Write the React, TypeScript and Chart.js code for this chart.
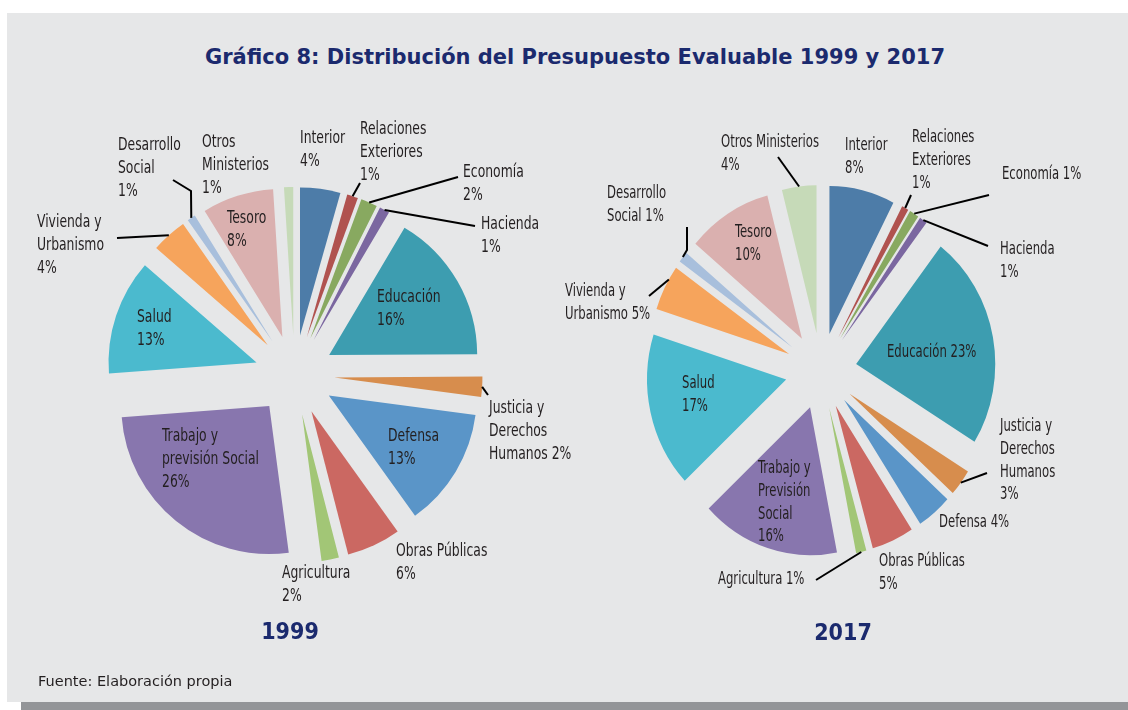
import React, { useEffect, useRef } from "react";
import { Chart, registerables } from "chart.js";

Chart.register(...registerables);

// ---------- DATA ----------
const categories = [
  "Interior",
  "Relaciones Exteriores",
  "Economía",
  "Hacienda",
  "Educación",
  "Justicia y Derechos Humanos",
  "Defensa",
  "Obras Públicas",
  "Agricultura",
  "Trabajo y Previsión Social",
  "Salud",
  "Vivienda y Urbanismo",
  "Desarrollo Social",
  "Tesoro",
  "Otros Ministerios",
];

// share of the evaluable budget (%)
const values1999 = [4.4, 1.2, 1.8, 1.1, 16.4, 2.2, 13.0, 5.9, 1.9, 25.9, 12.6, 3.9, 0.9, 7.8, 1.0];
const values2017 = [7.6, 0.8, 1.1, 0.9, 23.4, 2.9, 4.1, 4.9, 1.2, 16.1, 16.9, 5.0, 1.2, 9.9, 4.0];

const yearLabels = ["1999", "2017"];
const chartTitle = "Gráfico 8: Distribución del Presupuesto Evaluable 1999 y 2017";
const sourceText = "Fuente: Elaboración propia";

// ---------- STYLE / LAYOUT ----------
const sliceColors = [
  "#4d7ca8", "#b0524f", "#88a960", "#7b67a0", "#3d9db0", "#d78d4d", "#5a95c8",
  "#cb6862", "#a2c676", "#8876ae", "#4bbace", "#f6a45c", "#a8bfdc", "#dab0af", "#c6dab8",
];

const W = 1128;
const H = 710;
const LINE_H = 22.6;
const LABEL_FONT = '17px "Liberation Sans Narrow", "DejaVu Sans Condensed", sans-serif';
const TEXT_SX = 0.81;
const TEXT_COLOR = "#231f20";
const NAVY = "#1b2a6e";

type LabelLayout = { x: number; y: number; lines: string[] };
type Leader = { idx: number; pts: number[][]; at?: number };

const labels1999: LabelLayout[] = [
  { x: 300, y: 139, lines: ["Interior", "{p}"] },
  { x: 360, y: 130, lines: ["Relaciones", "Exteriores", "{p}"] },
  { x: 463, y: 173, lines: ["Economía", "{p}"] },
  { x: 481, y: 225, lines: ["Hacienda", "{p}"] },
  { x: 377, y: 298, lines: ["Educación", "{p}"] },
  { x: 489, y: 409, lines: ["Justicia y", "Derechos", "Humanos {p}"] },
  { x: 388, y: 437, lines: ["Defensa", "{p}"] },
  { x: 396, y: 552, lines: ["Obras Públicas", "{p}"] },
  { x: 282, y: 574, lines: ["Agricultura", "{p}"] },
  { x: 162, y: 437, lines: ["Trabajo y", "previsión Social", "{p}"] },
  { x: 137, y: 318, lines: ["Salud", "{p}"] },
  { x: 37, y: 223, lines: ["Vivienda y", "Urbanismo", "{p}"] },
  { x: 118, y: 146, lines: ["Desarrollo", "Social", "{p}"] },
  { x: 227, y: 219, lines: ["Tesoro", "{p}"] },
  { x: 202, y: 143, lines: ["Otros", "Ministerios", "{p}"] },
];

const labels2017: LabelLayout[] = [
  { x: 845, y: 146, lines: ["Interior", "{p}"] },
  { x: 912, y: 138, lines: ["Relaciones", "Exteriores", "{p}"] },
  { x: 1002, y: 175, lines: ["Economía {p}"] },
  { x: 1000, y: 250, lines: ["Hacienda", "{p}"] },
  { x: 887, y: 353, lines: ["Educación {p}"] },
  { x: 1000, y: 427, lines: ["Justicia y", "Derechos", "Humanos", "{p}"] },
  { x: 939, y: 523, lines: ["Defensa {p}"] },
  { x: 879, y: 562, lines: ["Obras Públicas", "{p}"] },
  { x: 718, y: 580, lines: ["Agricultura {p}"] },
  { x: 758, y: 469, lines: ["Trabajo y", "Previsión", "Social", "{p}"] },
  { x: 682, y: 384, lines: ["Salud", "{p}"] },
  { x: 565, y: 292, lines: ["Vivienda y", "Urbanismo {p}"] },
  { x: 607, y: 194, lines: ["Desarrollo", "Social {p}"] },
  { x: 735, y: 233, lines: ["Tesoro", "{p}"] },
  { x: 721, y: 143, lines: ["Otros Ministerios", "{p}"] },
];

const leaders1999: Leader[] = [
  { idx: 1, pts: [[360, 183]] },
  { idx: 2, pts: [[458, 177]] },
  { idx: 3, pts: [[475, 226]] },
  { idx: 5, pts: [[488, 395]] },
  { idx: 11, pts: [[117, 238]] },
  { idx: 12, pts: [[191, 191], [173, 180]] },
];

const leaders2017: Leader[] = [
  { idx: 1, pts: [[911, 195]] },
  { idx: 2, pts: [[989, 195]] },
  { idx: 3, pts: [[988, 246]] },
  { idx: 5, pts: [[987, 473]] },
  { idx: 8, pts: [[816, 580]] },
  { idx: 11, pts: [[649, 296]], at: 0.7 },
  { idx: 12, pts: [[687, 250], [687, 227]] },
  { idx: 14, pts: [[778, 157]] },
];

type PieSpec = {
  values: number[];
  cx: number;
  cy: number;
  radius: number;
  explode: number;
  sx: number;
  labels: LabelLayout[];
  leaders: Leader[];
};

const pie1999: PieSpec = {
  values: values1999, cx: 294.5, cy: 375, radius: 148, explode: 40, sx: 1,
  labels: labels1999, leaders: leaders1999,
};
const pie2017: PieSpec = {
  values: values2017, cx: 821, cy: 371, radius: 148, explode: 38, sx: 0.94,
  labels: labels2017, leaders: leaders2017,
};

function makeChart(canvas: HTMLCanvasElement, spec: PieSpec) {
  const { cx, cy, sx } = spec;
  let left = 0, right = 0, top = 0, bottom = 0;
  if (cx * 2 <= W) right = W - 2 * cx; else left = 2 * cx - W;
  if (cy * 2 <= H) bottom = H - 2 * cy; else top = 2 * cy - H;

  const explodePlugin = {
    id: "explode",
    beforeDatasetsDraw(chart: any) {
      const meta = chart.getDatasetMeta(0);
      const ca = chart.chartArea;
      const ccx = (ca.left + ca.right) / 2;
      const ccy = (ca.top + ca.bottom) / 2;
      meta.data.forEach((el: any) => {
        const a = (el.startAngle + el.endAngle) / 2;
        el.x = ccx + Math.cos(a) * spec.explode;
        el.y = ccy + Math.sin(a) * spec.explode;
      });
      const ctx = chart.ctx;
      ctx.save();
      ctx.translate(ccx, 0);
      ctx.scale(sx, 1);
      ctx.translate(-ccx, 0);
    },
    afterDatasetsDraw(chart: any) {
      chart.ctx.restore();
    },
  };

  const labelPlugin = {
    id: "sliceLabels",
    afterDraw(chart: any) {
      const ctx = chart.ctx as CanvasRenderingContext2D;
      const meta = chart.getDatasetMeta(0);
      const ca = chart.chartArea;
      const ccx = (ca.left + ca.right) / 2;
      // leader lines
      ctx.save();
      ctx.strokeStyle = "#000000";
      ctx.lineWidth = 2;
      spec.leaders.forEach((ld) => {
        const el = meta.data[ld.idx];
        const f = ld.at ?? 0.5;
        const a = el.startAngle + (el.endAngle - el.startAngle) * f;
        const px = el.x + Math.cos(a) * el.outerRadius;
        const py = el.y + Math.sin(a) * el.outerRadius;
        ctx.beginPath();
        ctx.moveTo(ccx + (px - ccx) * sx, py);
        ld.pts.forEach((p) => ctx.lineTo(p[0], p[1]));
        ctx.stroke();
      });
      ctx.restore();
      // texts
      ctx.save();
      ctx.font = LABEL_FONT;
      ctx.fillStyle = TEXT_COLOR;
      ctx.textBaseline = "middle";
      ctx.textAlign = "left";
      spec.labels.forEach((lb, i) => {
        const pct = Math.round(spec.values[i]) + "%";
        lb.lines.forEach((ln, k) => {
          const txt = ln.replace("{p}", pct);
          ctx.save();
          ctx.translate(lb.x, lb.y + k * LINE_H);
          ctx.scale(sx * TEXT_SX, 1);
          ctx.fillText(txt, 0, 0);
          ctx.restore();
        });
      });
      ctx.restore();
    },
  };

  return new Chart(canvas, {
    type: "pie",
    data: {
      labels: categories,
      datasets: [
        {
          data: spec.values,
          backgroundColor: sliceColors,
          borderWidth: 0,
          radius: spec.radius,
          clip: false,
        } as any,
      ],
    },
    options: {
      responsive: false,
      animation: false,
      events: [],
      layout: { padding: { left, right, top, bottom } },
      plugins: {
        legend: { display: false },
        tooltip: { enabled: false },
        title: { display: false },
      },
    } as any,
    plugins: [explodePlugin, labelPlugin],
  });
}

export default function App() {
  const ref1 = useRef<HTMLCanvasElement>(null);
  const ref2 = useRef<HTMLCanvasElement>(null);

  useEffect(() => {
    const c1 = makeChart(ref1.current!, pie1999);
    const c2 = makeChart(ref2.current!, pie2017);
    return () => {
      c1.destroy();
      c2.destroy();
    };
  }, []);

  const abs: React.CSSProperties = { position: "absolute" };
  const headFont = '"DejaVu Sans Condensed", "DejaVu Sans", sans-serif';

  return (
    <div style={{ ...abs, left: 0, top: 0, width: W, height: H, background: "#ffffff", overflow: "hidden" }}>
      <div style={{ ...abs, left: 7, top: 13, width: W - 7, height: 689, background: "#e6e7e8" }} />
      <div style={{ ...abs, left: 21, top: 702, width: W - 21, height: 8, background: "#939598" }} />
      <div
        style={{
          ...abs, left: 11, top: 42, width: W, height: 30, lineHeight: "30px", textAlign: "center",
          fontFamily: '"DejaVu Sans", sans-serif', fontWeight: "bold", fontSize: 21, color: NAVY, whiteSpace: "nowrap",
        }}
      >
        {chartTitle}
      </div>
      <canvas ref={ref1} width={W} height={H} style={{ ...abs, left: 0, top: 0, width: W, height: H }} />
      <canvas ref={ref2} width={W} height={H} style={{ ...abs, left: 0, top: 0, width: W, height: H }} />
      <div
        style={{
          ...abs, left: 190, top: 616, width: 200, height: 30, lineHeight: "30px", textAlign: "center",
          fontFamily: headFont, fontWeight: "bold", fontSize: 23, color: NAVY,
        }}
      >
        {yearLabels[0]}
      </div>
      <div
        style={{
          ...abs, left: 743, top: 617, width: 200, height: 30, lineHeight: "30px", textAlign: "center",
          fontFamily: headFont, fontWeight: "bold", fontSize: 23, color: NAVY,
        }}
      >
        {yearLabels[1]}
      </div>
      <div
        style={{
          ...abs, left: 38, top: 671, height: 20, lineHeight: "20px",
          fontFamily: '"DejaVu Sans", sans-serif', fontSize: 14.5, color: TEXT_COLOR, whiteSpace: "nowrap",
        }}
      >
        {sourceText}
      </div>
    </div>
  );
}
